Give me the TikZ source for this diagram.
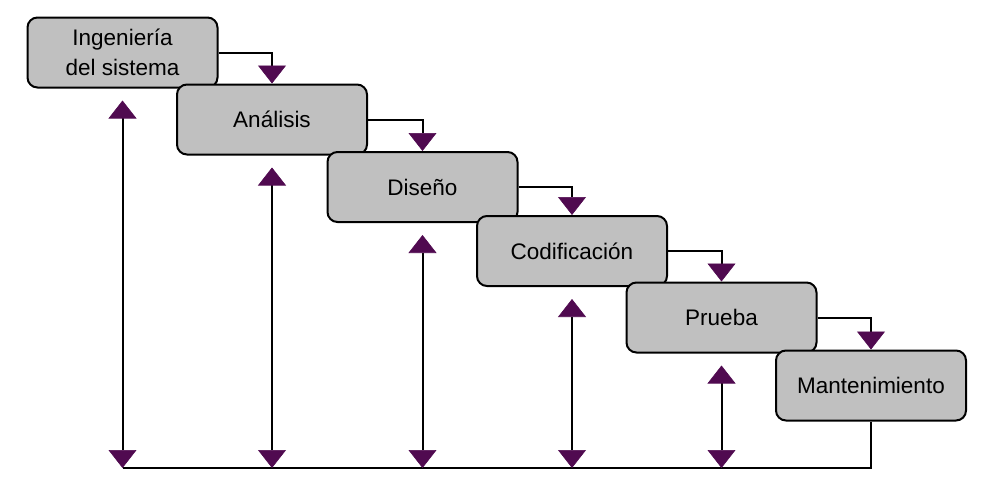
\documentclass[tikz,border=0pt]{standalone}
\usepackage{fontspec}
\setmainfont{Liberation Sans}
\usetikzlibrary{arrows.meta,calc}
\definecolor{boxgray}{RGB}{192,192,192}
\definecolor{tippurple}{RGB}{80,10,80}
\begin{document}
\begin{tikzpicture}[x=1pt,y=-1pt,
  phase/.style={draw=black,line width=2pt,fill=boxgray,rounded corners=10pt,
    minimum width=190pt,minimum height=70pt,inner sep=0pt,align=center,
    font=\fontsize{22.5}{30}\selectfont},
  link/.style={line width=2pt,draw=black},
  >={Triangle[width=28pt,length=18pt,color=tippurple,line width=0.6pt]},
]
\useasboundingbox (0,0) rectangle (1007,490);

\node[phase] (b1) at (122.5,52.5) {Ingeniería\\del sistema};
\node[phase] (b2) at (272,119.5) {Análisis};
\node[phase] (b3) at (422.5,187) {Diseño};
\node[phase] (b4) at (572,251) {Codificación};
\node[phase] (b5) at (721.5,317.5) {Prueba};
\node[phase] (b6) at (871,385.5) {Mantenimiento};

\coordinate (base) at (871,468);

\draw[link,->] (b1.east) -| (b2.north);
\draw[link,->] (b2.east) -| (b3.north);
\draw[link,->] (b3.east) -| (b4.north);
\draw[link,->] (b4.east) -| (b5.north);
\draw[link,->] (b5.east) -| (b6.north);

\draw[link] (b6.south) |- (b1.south |- base);

\foreach \b in {b1,b2,b3,b4,b5}{
  \draw[link,<->] (\b.south |- base) -- ([yshift=-12pt]\b.south);
}
\end{tikzpicture}
\end{document}
